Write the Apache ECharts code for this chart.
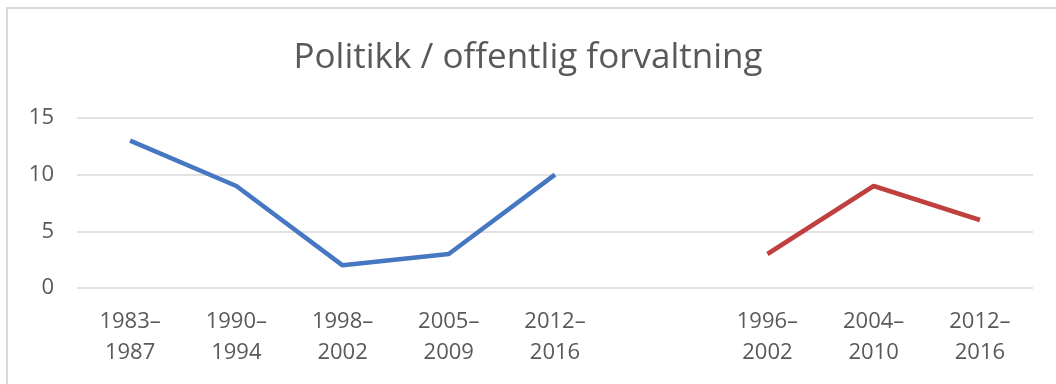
<!DOCTYPE html>
<html>
<head>
<meta charset="utf-8">
<script src="https://cdn.jsdelivr.net/npm/echarts@6/dist/echarts.min.js"></script>
<style>
html,body{margin:0;padding:0;background:#fff;}
#chart{width:1056px;height:384px;}
</style>
</head>
<body>
<div id="chart"></div>
<script>
var categories = ['1983–\n1987','1990–\n1994','1998–\n2002','2005–\n2009','2012–\n2016','','1996–\n2002','2004–\n2010','2012–\n2016'];
var seriesA = [13, 9, 2, 3, 10, null, null, null, null];
var seriesB = [null, null, null, null, null, null, 3, 9, 6];
var yTicks = {min: 0, max: 15, interval: 5};
var titleText = 'Politikk / offentlig forvaltning';

var chart = echarts.init(document.getElementById('chart'));
chart.setOption({
  animation: false,
  backgroundColor: '#ffffff',
  graphic: [
    {type: 'rect', shape: {x: 6, y: 7, width: 1050, height: 2}, style: {fill: '#d9d9d9'}, silent: true},
    {type: 'rect', shape: {x: 6, y: 7, width: 2, height: 377}, style: {fill: '#d9d9d9'}, silent: true}
  ],
  title: {
    text: titleText,
    left: 'center',
    top: 36,
    textStyle: {fontFamily: 'Open Sans', fontSize: 35, fontWeight: 'normal', color: '#595959'}
  },
  grid: {left: 77, right: 23, top: 118, bottom: 96, containLabel: false},
  xAxis: {
    type: 'category',
    data: categories,
    boundaryGap: true,
    axisLine: {show: false},
    axisTick: {show: false},
    axisLabel: {interval: 0, margin: 18, fontFamily: 'Open Sans', fontSize: 22, color: '#595959', lineHeight: 31}
  },
  yAxis: {
    type: 'value',
    min: yTicks.min, max: yTicks.max, interval: yTicks.interval,
    axisLine: {show: false},
    axisTick: {show: false},
    splitLine: {lineStyle: {color: '#d9d9d9', width: 1.5}},
    axisLabel: {margin: 23, fontFamily: 'Open Sans', fontSize: 22, color: '#595959'}
  },
  series: [
    {type: 'line', data: seriesA, showSymbol: false, connectNulls: false, lineStyle: {color: '#4677c2', width: 4.5}, itemStyle: {color: '#4677c2'}},
    {type: 'line', data: seriesB, showSymbol: false, connectNulls: false, lineStyle: {color: '#c0403f', width: 4.5}, itemStyle: {color: '#c0403f'}}
  ]
});
</script>
</body>
</html>
